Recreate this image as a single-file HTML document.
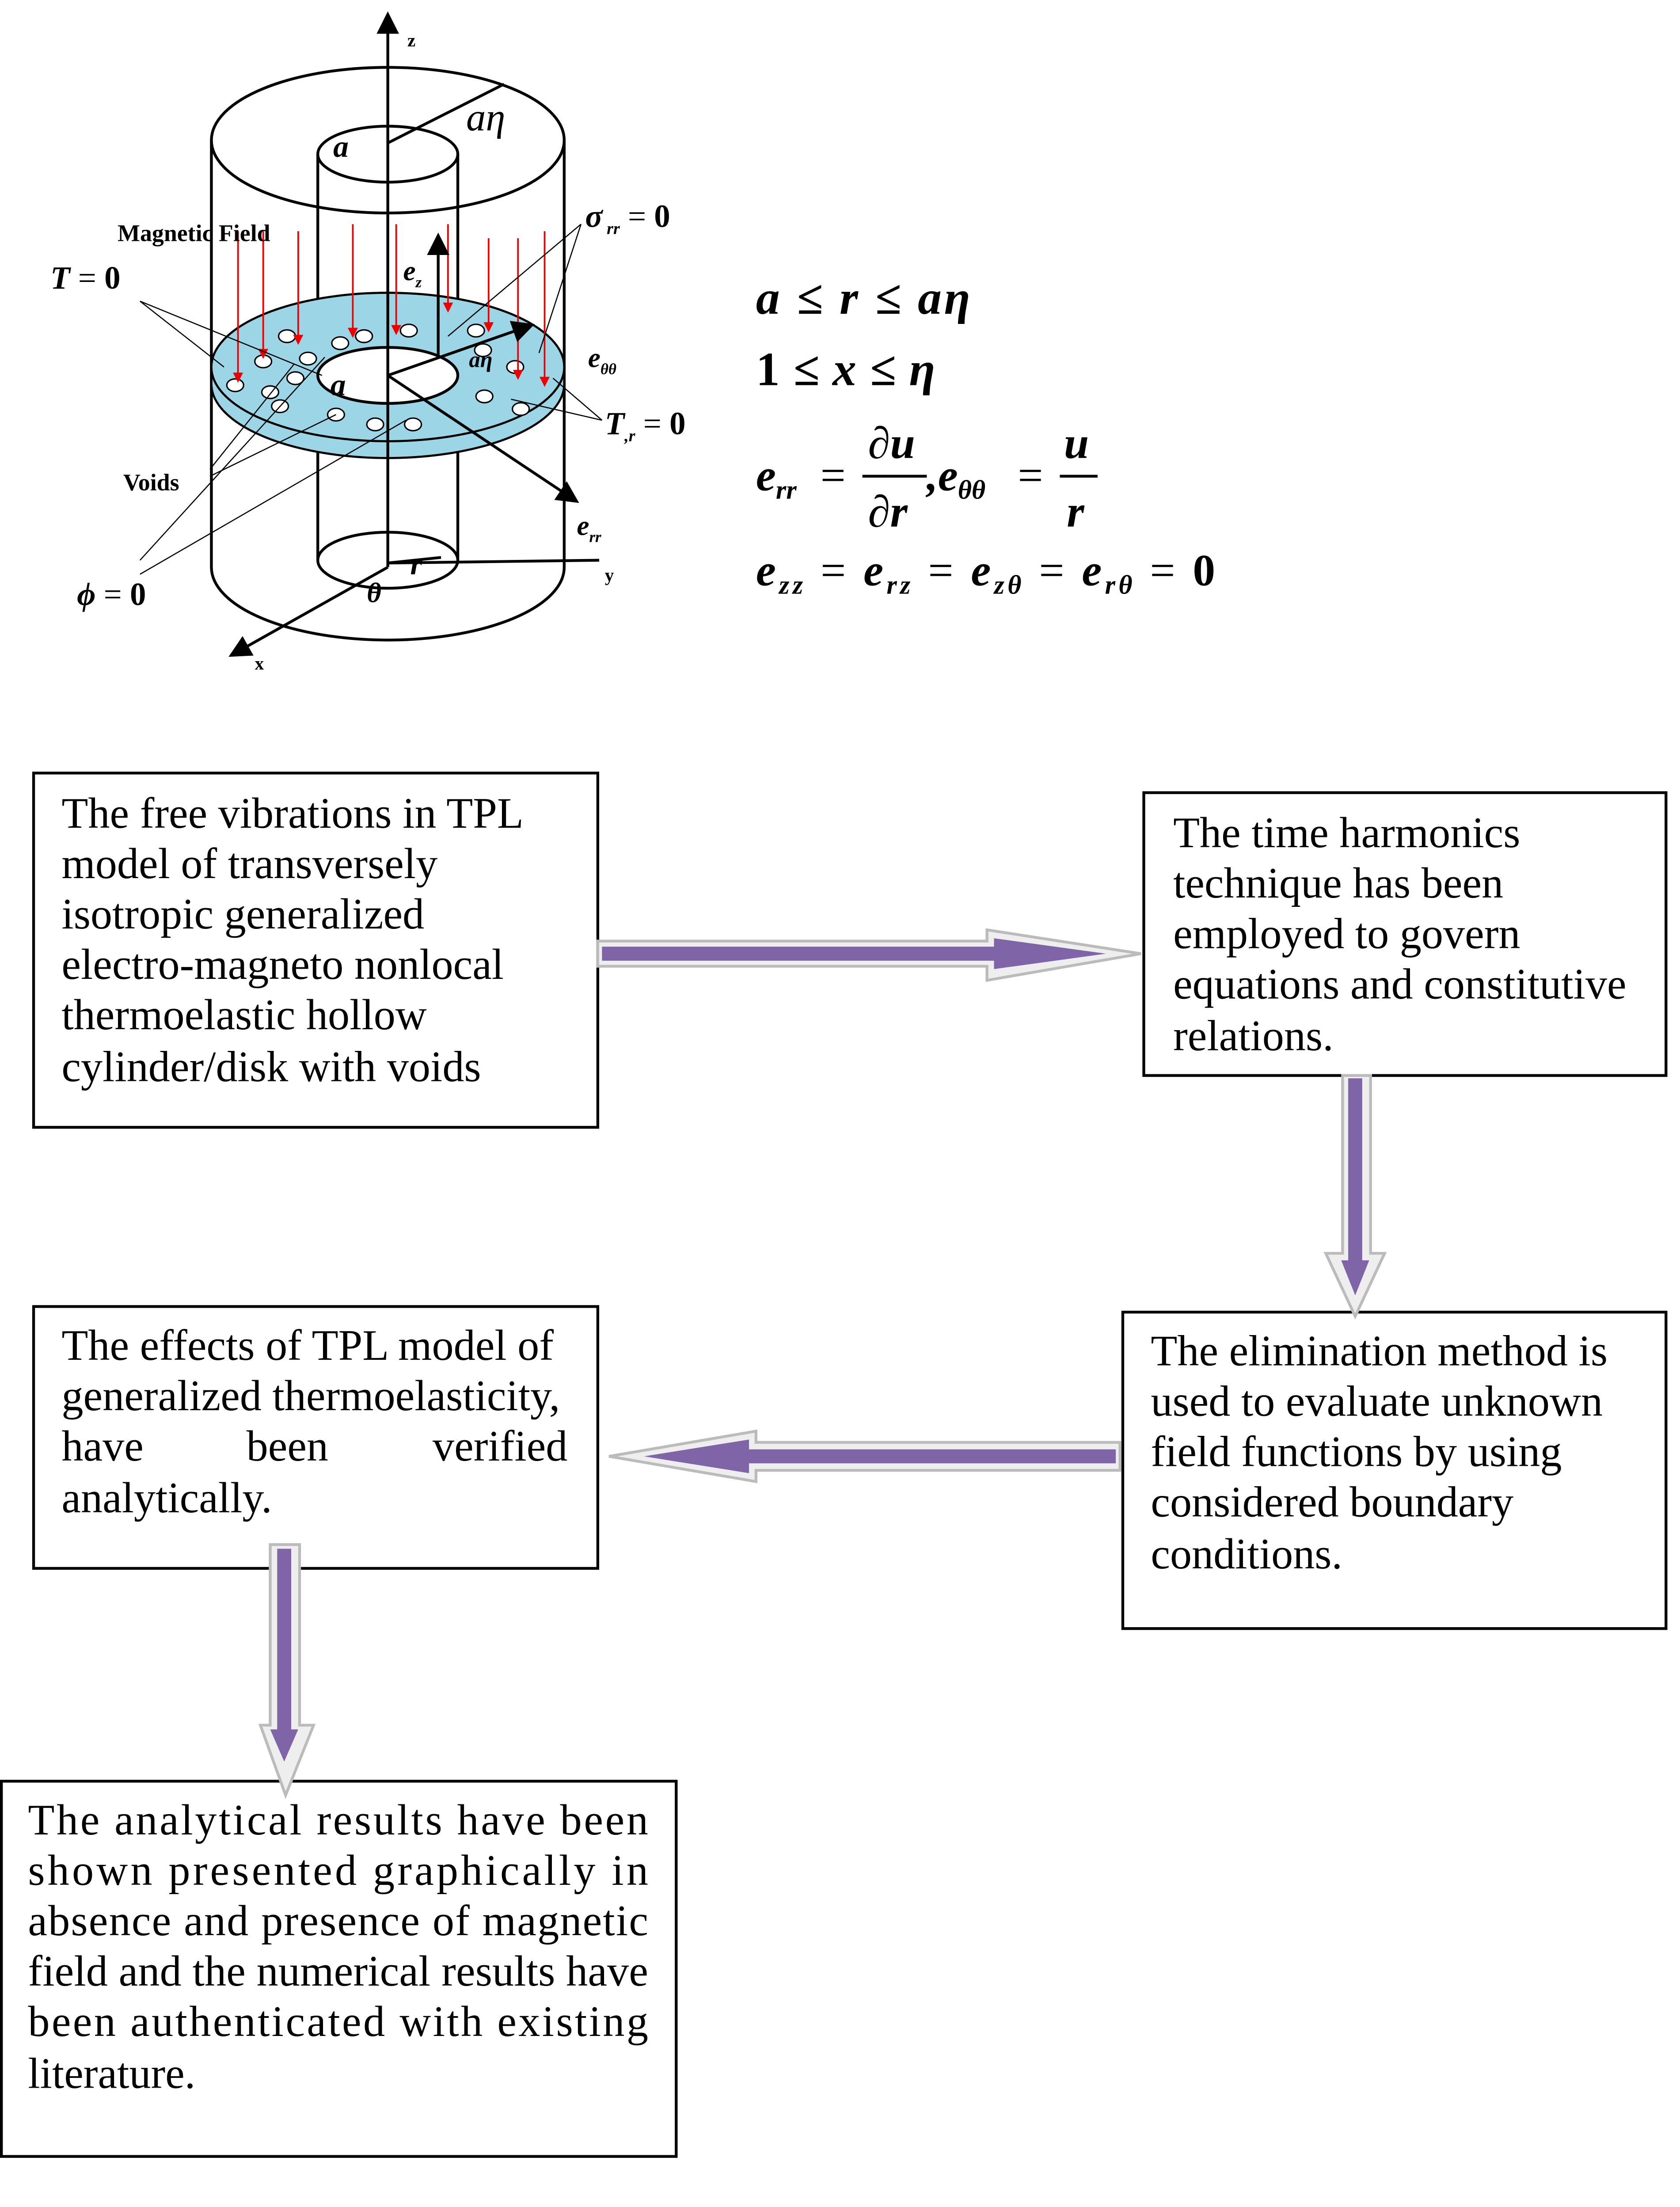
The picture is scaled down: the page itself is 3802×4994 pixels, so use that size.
<!DOCTYPE html>
<html><head><meta charset="utf-8"><style>
html,body{margin:0;padding:0;background:#fff;}
svg{display:block;}
.t{font-family:"Liberation Serif",serif;font-size:31px;fill:#000;}
.m{font-family:"Liberation Serif",serif;font-weight:bold;font-style:italic;fill:#000;}
.s{font-family:"Liberation Serif",serif;font-weight:bold;fill:#000;}
.u{font-style:normal;}
.n{font-style:normal;font-weight:normal;}
</style></head><body>
<svg width="3802" height="4994" viewBox="0 0 1200 1576" xmlns="http://www.w3.org/2000/svg">
<defs>
<marker id="ar" markerWidth="8" markerHeight="8" refX="7" refY="4" orient="auto"><path d="M0,0 L8,4 L0,8 z" fill="#000"/></marker>
<marker id="rd" markerWidth="6" markerHeight="6" refX="5" refY="3" orient="auto"><path d="M0,0 L6,3 L0,6 z" fill="#e00"/></marker>
</defs>
<g fill="none" stroke="#000" stroke-width="2">
<ellipse cx="277" cy="100" rx="126" ry="52"/>
<line x1="151" y1="100" x2="151" y2="405"/>
<line x1="403" y1="100" x2="403" y2="405"/>
<path d="M151,405 A126,52 0 0 0 403,405"/>
<ellipse cx="277" cy="110" rx="50" ry="20"/>
<line x1="227" y1="110" x2="227" y2="400"/>
<line x1="327" y1="110" x2="327" y2="400"/>
<ellipse cx="277" cy="400" rx="50" ry="20"/>
</g>
<path d="M151,262 A126,53 0 0 1 403,262 L403,274 A126,53 0 0 1 151,274 Z" fill="#9cd6e6" stroke="#000" stroke-width="1.5"/>
<ellipse cx="277" cy="262" rx="126" ry="53" fill="#9cd6e6" stroke="#000" stroke-width="1.5"/>
<ellipse cx="277" cy="268" rx="50" ry="20" fill="#fff" stroke="#000" stroke-width="2"/>
<g fill="#fff" stroke="#000" stroke-width="1">
<ellipse cx="168" cy="275" rx="6" ry="4.5"/><ellipse cx="188" cy="258" rx="6" ry="4.5"/><ellipse cx="193" cy="280" rx="6" ry="4.5"/>
<ellipse cx="211" cy="270" rx="6" ry="4.5"/><ellipse cx="205" cy="240" rx="6" ry="4.5"/><ellipse cx="220" cy="256" rx="6" ry="4.5"/>
<ellipse cx="243" cy="245" rx="6" ry="4.5"/><ellipse cx="260" cy="240" rx="6" ry="4.5"/><ellipse cx="292" cy="236" rx="6" ry="4.5"/>
<ellipse cx="340" cy="236" rx="6" ry="4.5"/><ellipse cx="345" cy="250" rx="6" ry="4.5"/><ellipse cx="346" cy="283" rx="6" ry="4.5"/>
<ellipse cx="372" cy="292" rx="6" ry="4.5"/><ellipse cx="200" cy="290" rx="6" ry="4.5"/><ellipse cx="240" cy="296" rx="6" ry="4.5"/>
<ellipse cx="268" cy="303" rx="6" ry="4.5"/><ellipse cx="295" cy="303" rx="6" ry="4.5"/><ellipse cx="368" cy="262" rx="6" ry="4.5"/>
</g>
<g stroke="#e00" stroke-width="1.2" marker-end="url(#rd)">
<line x1="170" y1="165" x2="170" y2="272"/><line x1="188" y1="165" x2="188" y2="255"/>
<line x1="213" y1="165" x2="213" y2="245"/><line x1="252" y1="160" x2="252" y2="240"/>
<line x1="283" y1="160" x2="283" y2="238"/><line x1="320" y1="160" x2="320" y2="222"/>
<line x1="349" y1="170" x2="349" y2="236"/><line x1="370" y1="170" x2="370" y2="270"/>
<line x1="389" y1="165" x2="389" y2="275"/>
</g>
<g stroke="#000" stroke-width="2">
<line x1="277" y1="405" x2="277" y2="10" marker-end="url(#ar)"/>
<line x1="277" y1="405" x2="165" y2="468" marker-end="url(#ar)"/>
<line x1="277" y1="402" x2="428" y2="400"/>
<line x1="277" y1="102" x2="360" y2="60"/>
<line x1="277" y1="268" x2="380" y2="232" marker-end="url(#ar)"/>
<line x1="277" y1="268" x2="412" y2="358" marker-end="url(#ar)"/>
<line x1="313" y1="255" x2="313" y2="168" marker-end="url(#ar)"/>
<line x1="277" y1="402" x2="315" y2="398"/>
</g>
<g stroke="#000" stroke-width="0.8">
<line x1="100" y1="215" x2="230" y2="268"/><line x1="100" y1="215" x2="160" y2="262"/>
<line x1="150" y1="335" x2="210" y2="260"/><line x1="150" y1="340" x2="240" y2="296"/>
<line x1="100" y1="400" x2="232" y2="255"/><line x1="100" y1="410" x2="290" y2="300"/>
<line x1="415" y1="160" x2="320" y2="240"/><line x1="415" y1="160" x2="385" y2="252"/>
<line x1="430" y1="300" x2="365" y2="285"/><line x1="430" y1="300" x2="395" y2="270"/>
</g>
<text class="s" x="291" y="33" font-size="13">z</text>
<text class="s" x="432" y="415" font-size="13">y</text>
<text class="s" x="182" y="478" font-size="13">x</text>
<text class="m n" x="333" y="93" font-size="28" style="font-style:italic">aη</text>
<text class="m" x="238" y="112" font-size="22" font-weight="normal">a</text>
<text class="m" x="236" y="282" font-size="22">a</text>
<text class="m" x="335" y="262" font-size="16" font-weight="normal">aη</text>
<text class="m" x="288" y="200" font-size="20">e<tspan font-size="11" dy="5">z</tspan></text>
<text class="m" x="420" y="262" font-size="20">e<tspan font-size="11" dy="5">θθ</tspan></text>
<text class="m" x="412" y="382" font-size="20">e<tspan font-size="11" dy="5">rr</tspan></text>
<text class="m" x="293" y="410" font-size="22">r</text>
<text class="m" x="262" y="430" font-size="20" font-weight="normal">θ</text>
<text class="s" x="84" y="172" font-size="17">Magnetic Field</text>
<text class="s" x="88" y="350" font-size="17">Voids</text>
<text class="m" x="36" y="206" font-size="23">T  <tspan class="n">=</tspan> <tspan class="u">0</tspan></text>
<text class="m" x="55" y="432" font-size="23">ϕ <tspan class="n">=</tspan> <tspan class="u">0</tspan></text>
<text class="m" x="418" y="162" font-size="23">σ<tspan font-size="12" dy="5"> rr</tspan><tspan dy="-5" class="n">  =  </tspan><tspan class="u">0</tspan></text>
<text class="m" x="432" y="310" font-size="23">T<tspan font-size="12" dy="5">,r</tspan><tspan dy="-5" class="n">  =  </tspan><tspan class="u">0</tspan></text>
<text class="m" x="540" y="224" font-size="34" textLength="153" lengthAdjust="spacing">a ≤ r ≤ aη</text>
<text class="m" x="540" y="275" font-size="34" textLength="128" lengthAdjust="spacing"><tspan class="u">1</tspan> ≤ x ≤ η</text>
<text class="m" x="540" y="350" font-size="32">e<tspan font-size="19" dy="6">rr</tspan></text>
<text class="n" x="586" y="350" font-size="32" font-family="Liberation Serif">=</text>
<text class="m" x="620" y="327" font-size="32">∂u</text>
<line x1="616" y1="340" x2="662" y2="340" stroke="#000" stroke-width="2"/>
<text class="m" x="620" y="376" font-size="32">∂r</text>
<text class="m" x="662" y="350" font-size="32">,e<tspan font-size="19" dy="6">θθ</tspan></text>
<text class="n" x="727" y="350" font-size="32" font-family="Liberation Serif">=</text>
<text class="m" x="760" y="327" font-size="32">u</text>
<line x1="757" y1="340" x2="784" y2="340" stroke="#000" stroke-width="2"/>
<text class="m" x="762" y="376" font-size="32">r</text>
<text class="m" x="540" y="418" font-size="32" textLength="328" lengthAdjust="spacing">e<tspan font-size="19" dy="6">zz</tspan><tspan dy="-6" class="n"> = </tspan>e<tspan font-size="19" dy="6">rz</tspan><tspan dy="-6" class="n"> = </tspan>e<tspan font-size="19" dy="6">zθ</tspan><tspan dy="-6" class="n"> = </tspan>e<tspan font-size="19" dy="6">rθ</tspan><tspan dy="-6" class="n"> = </tspan><tspan class="u">0</tspan></text>
<g fill="none" stroke="#000" stroke-width="2">
<rect x="24" y="552" width="403" height="253"/>
<rect x="817" y="566" width="373" height="202"/>
<rect x="24" y="933" width="403" height="187"/>
<rect x="802" y="937" width="388" height="226"/>
<rect x="1" y="1272" width="482" height="268"/>
</g>
<g class="t">
<text x="44" y="591">The free vibrations in TPL</text>
<text x="44" y="627">model of transversely</text>
<text x="44" y="663">isotropic generalized</text>
<text x="44" y="699">electro-magneto nonlocal</text>
<text x="44" y="735">thermoelastic hollow</text>
<text x="44" y="772">cylinder/disk with voids</text>
<text x="838" y="605">The time harmonics</text>
<text x="838" y="641">technique has been</text>
<text x="838" y="677">employed to govern</text>
<text x="838" y="713">equations and constitutive</text>
<text x="838" y="750">relations.</text>
<text x="44" y="971">The effects of TPL model of</text>
<text x="44" y="1007">generalized thermoelasticity,</text>
<text x="44" y="1043">have</text><text x="176" y="1043">been</text><text x="309" y="1043">verified</text>
<text x="44" y="1080">analytically.</text>
<text x="822" y="975">The elimination method is</text>
<text x="822" y="1011">used to evaluate unknown</text>
<text x="822" y="1047">field functions by using</text>
<text x="822" y="1083">considered boundary</text>
<text x="822" y="1120">conditions.</text>
<text x="20" y="1310" textLength="443" lengthAdjust="spacing">The analytical results have been</text>
<text x="20" y="1346" textLength="443" lengthAdjust="spacing">shown presented graphically in</text>
<text x="20" y="1382" textLength="443" lengthAdjust="spacing">absence and presence of magnetic</text>
<text x="20" y="1418" textLength="443" lengthAdjust="spacing">field and the numerical results have</text>
<text x="20" y="1454" textLength="443" lengthAdjust="spacing">been authenticated with existing</text>
<text x="20" y="1491">literature.</text>
</g>
<g>
<path d="M427,672 L705,672 L705,664 L815,681 L705,700 L705,690 L427,690 Z" fill="#eee" stroke="#bbb" stroke-width="2"/>
<path d="M430,676 L710,676 L710,670 L790,681 L710,692 L710,686 L430,686 Z" fill="#7f64a8"/>
<path d="M959,768 L979,768 L979,895 L989,895 L968,940 L947,895 L959,895 Z" fill="#eee" stroke="#bbb" stroke-width="2"/>
<path d="M963,770 L973,770 L973,900 L978,900 L968,925 L958,900 L963,900 Z" fill="#7f64a8"/>
<path d="M800,1030 L540,1030 L540,1022 L435,1040 L540,1058 L540,1050 L800,1050 Z" fill="#eee" stroke="#bbb" stroke-width="2"/>
<path d="M797,1035 L535,1035 L535,1028 L460,1040 L535,1052 L535,1045 L797,1045 Z" fill="#7f64a8"/>
<path d="M193,1103 L214,1103 L214,1232 L224,1232 L204,1282 L186,1232 L193,1232 Z" fill="#eee" stroke="#bbb" stroke-width="2"/>
<path d="M198,1106 L208,1106 L208,1235 L213,1235 L203,1258 L193,1235 L198,1235 Z" fill="#7f64a8"/>
</g>
</svg>
</body></html>
